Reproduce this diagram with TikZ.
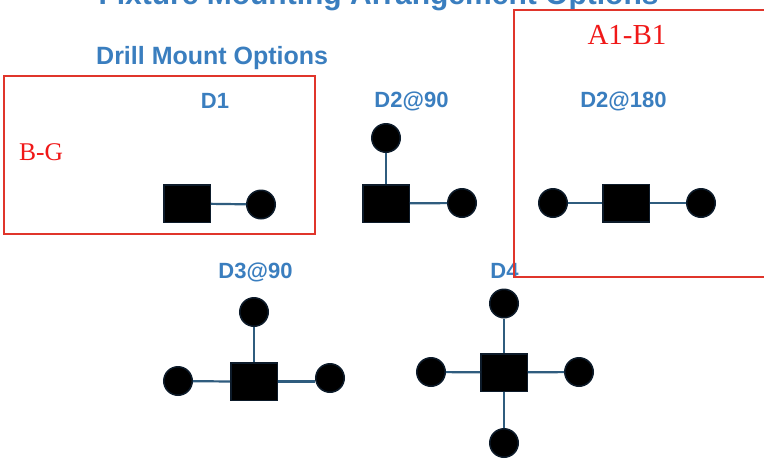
\documentclass[tikz,border=0pt]{standalone}
\usepackage{fontspec}
\setmainfont{Liberation Serif}
\newfontfamily\lsans{Liberation Sans}
\definecolor{lblblue}{HTML}{3A7EBF}
\definecolor{boxred}{HTML}{E0352B}
\definecolor{txtred}{HTML}{F01818}
\definecolor{connc}{HTML}{2F5C7E}
\definecolor{edgec}{HTML}{0D1B2A}
\tikzset{
  sq/.style={rectangle, fill=black, draw=edgec, line width=1.5pt, minimum width=46.5pt, minimum height=37.5pt, inner sep=0pt},
  hole/.style={circle, fill=black, draw=edgec, line width=1.5pt, minimum size=28.5pt, inner sep=0pt},
  conn/.style={draw=connc, line width=2.2pt},
  lbl/.style={anchor=base, text=lblblue, font=\lsans\bfseries\fontsize{22}{24}\selectfont, inner sep=0pt},
  redlbl/.style={anchor=base, text=txtred, inner sep=0pt},
  redbox/.style={draw=boxred, line width=2pt}
}
\begin{document}
\begin{tikzpicture}[x=1pt,y=-1pt]
\clip (0,0) rectangle (764,459);
\fill[white] (0,0) rectangle (764,459);
% titles
\node[anchor=base, text=lblblue, font=\lsans\bfseries\fontsize{30}{32}\selectfont, inner sep=0pt] (title) at (378.5,4) {Fixture Mounting Arrangement Options};
\node[anchor=base west, text=lblblue, font=\lsans\bfseries\fontsize{25}{27}\selectfont, inner sep=0pt] (sub) at (96,64.5) {Drill Mount Options};
% labels
\node[lbl] (l1) at (215,108) {D1};
\node[lbl] (l2) at (411.5,107) {D2@90};
\node[lbl] (l3) at (623.5,107) {D2@180};
\node[lbl] (l4) at (255.5,278) {D3@90};
\node[lbl] (l5) at (504.5,278) {D4};
% D1
\node[sq] (s1) at (187,203.5) {};
\node[hole] (s1r) at (261,204.5) {};
\draw[conn] (s1) -- (s1r);
% D2@90
\node[sq] (s2) at (386,203.5) {};
\node[hole] (s2t) at (386,138) {};
\node[hole] (s2r) at (462,203) {};
\draw[conn] (s2) -- (s2t);
\draw[conn] (s2) -- (s2r);
% D2@180
\node[sq] (s3) at (626,203) {};
\node[hole] (s3l) at (553,203) {};
\node[hole] (s3r) at (701,203) {};
\draw[conn] (s3) -- (s3l);
\draw[conn] (s3) -- (s3r);
% D3@90
\node[sq] (s4) at (254,381.5) {};
\node[hole] (s4t) at (254,312) {};
\node[hole] (s4l) at (178,381) {};
\node[hole] (s4r) at (330,378) {};
\draw[conn] (s4) -- (s4t);
\draw[conn] (s4.west) -- (s4l);
\draw[conn] (s4.east) -- (s4.east -| s4r.west);
% D4
\node[sq] (s5) at (504,372.5) {};
\node[hole] (s5t) at (504,303.5) {};
\node[hole] (s5l) at (431,372) {};
\node[hole] (s5r) at (579,372) {};
\node[hole] (s5b) at (504,443) {};
\draw[conn] (s5) -- (s5t);
\draw[conn] (s5) -- (s5l);
\draw[conn] (s5) -- (s5r);
\draw[conn] (s5) -- (s5b);
% red boxes
\draw[redbox] (4,76) rectangle (315,233.5);
\draw[redbox] (514,9.5) rectangle (775,276.5);
\node[redlbl, font=\fontsize{25.5}{27}\selectfont] (bg) at (41,160.5) {B-G};
\node[redlbl, font=\fontsize{29}{31}\selectfont] (ab) at (627,44) {A1-B1};
\end{tikzpicture}
\end{document}
